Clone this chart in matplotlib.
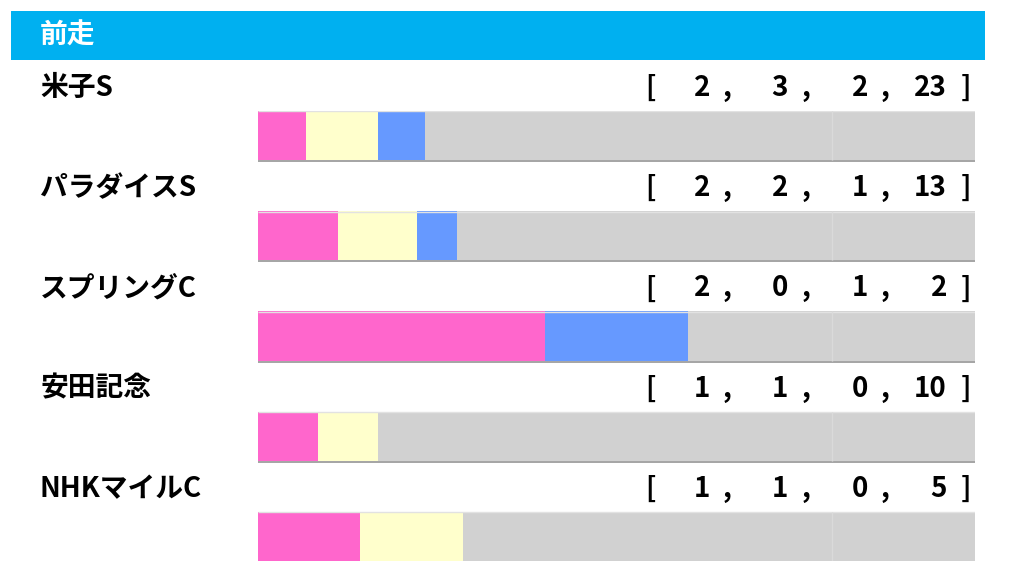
import matplotlib
matplotlib.use("Agg")
import matplotlib.pyplot as plt
import matplotlib.transforms as mtransforms
from matplotlib.patches import Rectangle

plt.rcParams['font.family'] = ['Noto Sans CJK JP', 'DejaVu Sans']

title = "前走"
races = ["米子S", "パラダイスS", "スプリングC", "安田記念", "NHKマイルC"]
first = [2, 2, 2, 1, 1]
second = [3, 2, 0, 1, 1]
third = [2, 1, 1, 0, 0]
other = [23, 13, 2, 10, 5]

colors = ["#ff66cc", "#ffffcc", "#6699ff", "#d1d1d1"]

W, H = 1024, 570
fig = plt.figure(figsize=(W / 100, H / 100), dpi=100)

# header
hax = fig.add_axes([11 / W, 1 - 60 / H, 974 / W, 49 / H])
hax.set_axis_off()
hax.add_patch(Rectangle((0, 0), 1, 1, transform=hax.transAxes, color="#00b0f0"))
hax.text(29 / 974, 0.5, title, color="white", fontsize=20, fontweight="bold",
         va="center", ha="left", transform=hax.transAxes)

# bars axes
x0, x1 = 258, 975
top, bot = 111, 561
ax = fig.add_axes([x0 / W, 1 - bot / H, (x1 - x0) / W, (bot - top) / H])
ax.set_axis_off()
n = len(races)
bh = 0.49
ax.set_xlim(0, 1)
ax.set_ylim(n - 1 + bh / 2, -bh / 2)

sx = 2 / (x1 - x0)
sy = 0.02
for i in range(n):
    vals = [first[i], second[i], third[i], other[i]]
    tot = sum(vals)
    # shadow
    ax.barh(i + sy, 1 + sx, height=bh, left=0, color="#a6a6a6", zorder=1)
    left = 0.0
    for v, c in zip(vals, colors):
        if v > 0:
            ax.barh(i, v / tot, height=bh, left=left, color=c, zorder=2, linewidth=0)
        left += v / tot
    # top light edge
    ax.hlines(i - bh / 2 + 0.004, 0, 1, color="#e2e2e2", lw=1, zorder=3)
    ax.vlines(0.8, i - bh / 2, i + bh / 2, color="#dadada", lw=1, zorder=3)

# texts
trans = mtransforms.blended_transform_factory(fig.transFigure, ax.transData)
for i in range(n):
    ty = i - 0.475
    ax.text(40 / W, ty, races[i], transform=trans, fontsize=20, fontweight="bold",
            ha="left", va="center", clip_on=False)
    vals = [first[i], second[i], third[i], other[i]]
    ax.text(651 / W, ty, "[", transform=trans, fontsize=20, fontweight="bold",
            ha="center", va="center", clip_on=False)
    for v, xr in zip(vals, [710, 788, 868, 947]):
        ax.text(xr / W, ty, str(v), transform=trans, fontsize=20, fontweight="bold",
                ha="right", va="center", clip_on=False)
    for xc in [727, 806, 885]:
        ax.text(xc / W, ty, ",", transform=trans, fontsize=20, fontweight="bold",
                ha="center", va="center", clip_on=False)
    ax.text(966 / W, ty, "]", transform=trans, fontsize=20, fontweight="bold",
            ha="center", va="center", clip_on=False)

fig.savefig("out.png", dpi=100, facecolor="white")
